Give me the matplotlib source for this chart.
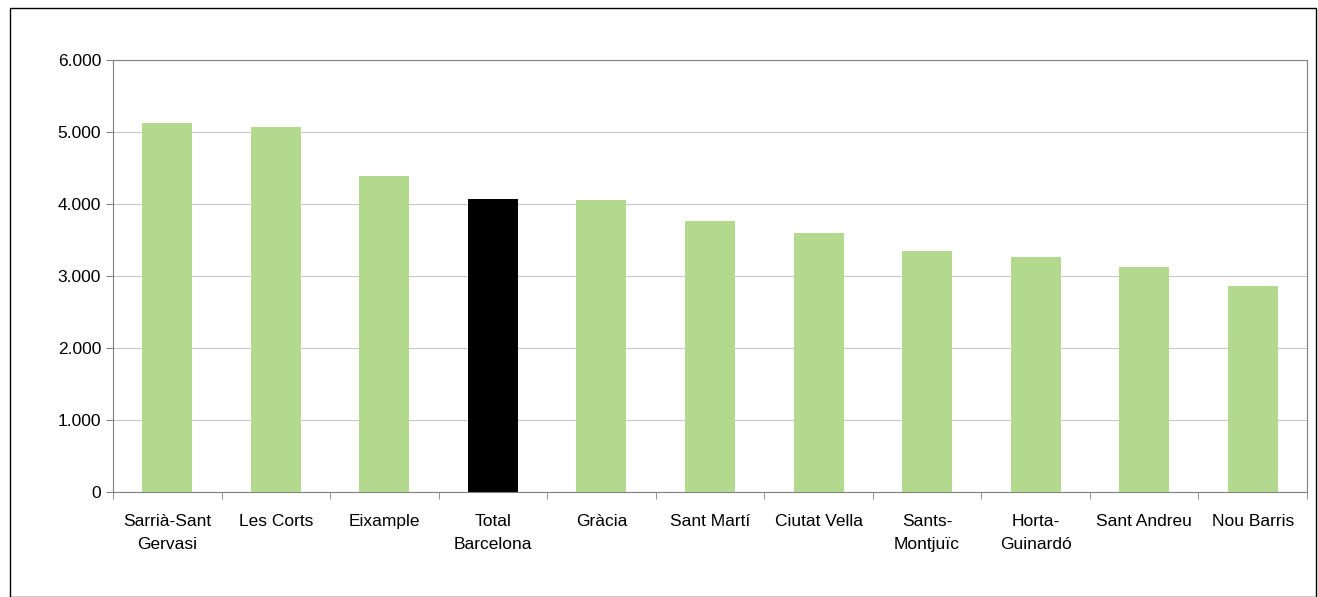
import matplotlib
matplotlib.use("Agg")
import matplotlib.pyplot as plt
from matplotlib.patches import Rectangle
from matplotlib.ticker import FuncFormatter

categories = ["Sarrià-Sant\nGervasi", "Les Corts", "Eixample", "Total\nBarcelona", "Gràcia",
              "Sant Martí", "Ciutat Vella", "Sants-\nMontjuïc", "Horta-\nGuinardó", "Sant Andreu", "Nou Barris"]
values = [5125, 5069, 4389, 4069, 4056, 3764, 3597, 3347, 3264, 3125, 2861]
colors = ["#b3d98f"] * 11
colors[3] = "#000000"

plt.rcParams['font.family'] = ['Liberation Sans Narrow', 'Liberation Sans', 'DejaVu Sans']
fig = plt.figure(figsize=(13.18, 5.97), dpi=100)
fig.patches.append(Rectangle((10/1318, 0), (1316-10)/1318, 1-8/597, transform=fig.transFigure,
                             fill=False, edgecolor="black", linewidth=1))
ax = fig.add_axes([113/1318, 1-492/597, (1307-113)/1318, (492-60)/597])
x = list(range(len(categories)))
ax.bar(x, values, width=0.46, color=colors, zorder=3)
ax.set_xlim(-0.5, len(categories)-0.5)
ax.set_ylim(0, 6000)
ax.set_yticks(range(0, 6001, 1000))
ax.yaxis.set_major_formatter(FuncFormatter(lambda v, p: "0" if v == 0 else f"{int(v):,}".replace(",", ".")))
ax.grid(axis="y", color="#c8c8c8", linewidth=0.8, zorder=0)
ax.set_xticks(x)
ax.set_xticklabels(categories, fontsize=12.5, linespacing=1.65)
ax.set_xticks([i + 0.5 for i in range(-1, len(categories))], minor=True)
ax.tick_params(axis="x", which="major", length=0, pad=16)
ax.tick_params(axis="x", which="minor", length=5, direction="out", color="#808080")
ax.tick_params(axis="y", labelsize=12.5, length=5, color="#808080")
for s in ax.spines.values():
    s.set_color("#808080")
fig.savefig("out.png", dpi=100)
